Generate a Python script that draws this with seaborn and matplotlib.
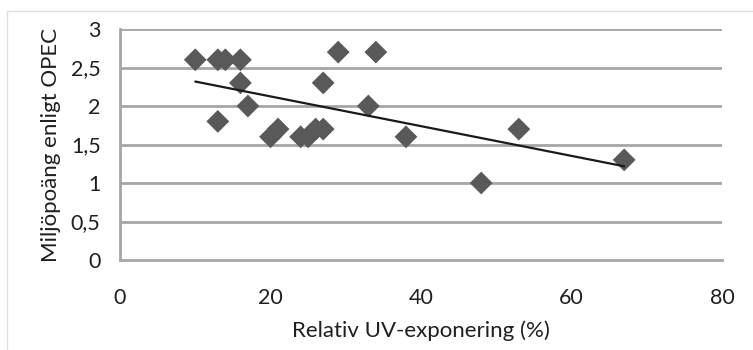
import matplotlib
matplotlib.use("Agg")
import matplotlib.pyplot as plt
import seaborn as sns
import pandas as pd
from matplotlib.lines import Line2D

# Data
uv_exposure = [10, 13, 14, 16, 16, 13, 17, 20, 21, 24, 25, 26, 27, 27, 29, 34, 33, 38, 48, 53, 67]
env_score = [2.6, 2.6, 2.6, 2.6, 2.3, 1.8, 2.0, 1.6, 1.7, 1.6, 1.6, 1.7, 1.7, 2.3, 2.7, 2.7, 2.0, 1.6, 1.0, 1.7, 1.3]
x_ticks = [0, 20, 40, 60, 80]
y_ticks = [0, 0.5, 1, 1.5, 2, 2.5, 3]
y_tick_labels = ["0", "0,5", "1", "1,5", "2", "2,5", "3"]

df = pd.DataFrame({"x": uv_exposure, "y": env_score})

sns.set_theme(style="white")
plt.rcParams["font.family"] = ["Lato", "DejaVu Sans"]

fig = plt.figure(figsize=(7.53, 3.5), dpi=100)
ax = fig.add_axes([120 / 753, 1 - 260 / 350, (722 - 120) / 753, (260 - 29) / 350])

grid_color = "#a6a6a6"
text_color = "#1f1f1f"
for yv in y_ticks[1:]:
    ax.axhline(yv, color=grid_color, lw=2, zorder=0)

sns.scatterplot(data=df, x="x", y="y", marker="D", s=135, color="#595959",
                edgecolor="none", ax=ax, zorder=3)
sns.regplot(data=df, x="x", y="y", scatter=False, ci=None, truncate=True,
            line_kws={"color": "#1a1a1a", "lw": 1.6, "zorder": 4}, ax=ax)

ax.set_xlim(0, 80)
ax.set_ylim(0, 3)
ax.set_xticks(x_ticks)
ax.set_yticks(y_ticks)
ax.set_yticklabels(y_tick_labels)
ax.tick_params(axis="both", length=0, labelsize=15.5, colors=text_color)
ax.tick_params(axis="x", pad=20)
ax.tick_params(axis="y", pad=14)

for side in ["top", "right"]:
    ax.spines[side].set_visible(False)
for side in ["left", "bottom"]:
    ax.spines[side].set_color(grid_color)
    ax.spines[side].set_linewidth(2)

ax.set_xlabel("Relativ UV-exponering (%)", fontsize=16, color=text_color, labelpad=9)
ax.set_ylabel("Miljöpoäng enligt OPEC", fontsize=16, color=text_color, labelpad=7)

# faint chart-area border
fig.add_artist(Line2D([7 / 753, 1], [1 - 11 / 350, 1 - 11 / 350], color="#e0e0e0", lw=1,
                      transform=fig.transFigure))
fig.add_artist(Line2D([7 / 753, 7 / 753], [0, 1 - 11 / 350], color="#e0e0e0", lw=1,
                      transform=fig.transFigure))

fig.savefig("out.png", dpi=100)
